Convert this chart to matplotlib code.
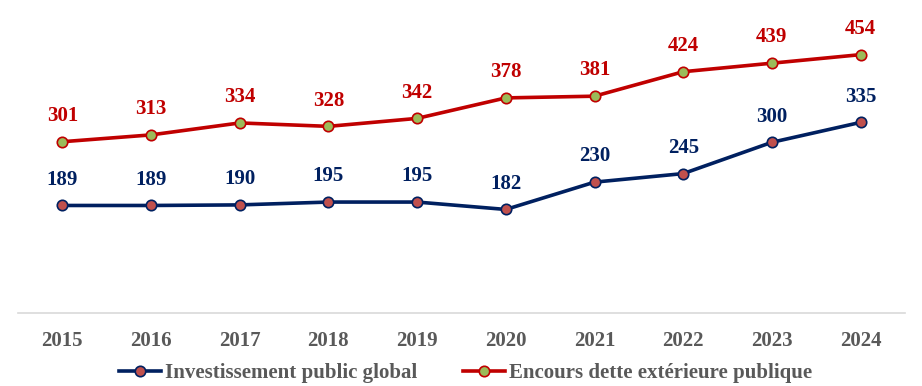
import matplotlib.pyplot as plt
import numpy as np

years = ["2015", "2016", "2017", "2018", "2019", "2020", "2021", "2022", "2023", "2024"]
invest = [189, 189, 190, 195, 195, 182, 230, 245, 300, 335]
dette = [301, 313, 334, 328, 342, 378, 381, 424, 439, 454]

BLUE = "#002060"
RED = "#C00000"
GREY = "#595959"

plt.rcParams["font.family"] = ["Liberation Serif", "DejaVu Serif"]
plt.rcParams["font.weight"] = "bold"

fig = plt.figure(figsize=(9.22, 3.86), dpi=100)
ax = fig.add_axes([0.0195, 0.189, 0.962, 0.811])

x = np.arange(len(years))
ax.plot(x, invest, color=BLUE, lw=2.6, marker="o", ms=7.5,
        mfc="#C0504D", mec=BLUE, mew=1.2, label="Investissement public global")
ax.plot(x, dette, color=RED, lw=2.6, marker="o", ms=7.5,
        mfc="#9BBB59", mec=RED, mew=1.2, label="Encours dette extérieure publique")

for xi, v in zip(x, invest):
    ax.annotate(str(v), (xi, v), xytext=(0, 18.5), textcoords="offset points",
                ha="center", va="center", color=BLUE, fontsize=15, fontweight="bold")
for xi, v in zip(x, dette):
    ax.annotate(str(v), (xi, v), xytext=(0, 18.5), textcoords="offset points",
                ha="center", va="center", color=RED, fontsize=15, fontweight="bold")

ax.set_xlim(-0.5, len(years) - 0.5)
ax.set_ylim(0, 550)
ax.set_xticks(x)
ax.set_xticklabels(years, fontsize=15, fontweight="bold", color=GREY)
ax.tick_params(axis="x", length=0, pad=13)
ax.set_yticks([])
for s in ["top", "right", "left"]:
    ax.spines[s].set_visible(False)
ax.spines["bottom"].set_color("#D9D9D9")
ax.spines["bottom"].set_linewidth(1.2)

leg = fig.legend(loc="lower center", bbox_to_anchor=(0.505, -0.042), ncol=2, frameon=False,
                 prop={"size": 15, "weight": "bold"}, handlelength=2.0,
                 handletextpad=0.2, columnspacing=2.2)
for t in leg.get_texts():
    t.set_color(GREY)

fig.savefig("out.png", dpi=100)
